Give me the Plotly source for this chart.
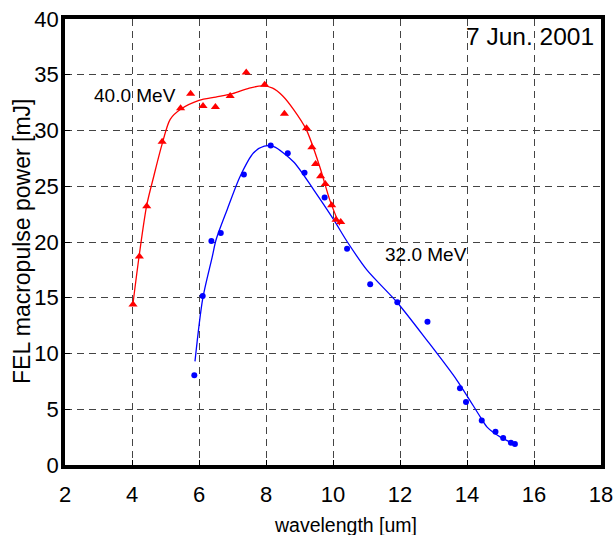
import plotly.graph_objects as go

# ---- measured data (40.0 MeV, red triangles) ----
red_x = [4.03, 4.22, 4.44, 4.90, 5.45, 5.75, 6.12, 6.49, 6.93, 7.41, 7.96, 8.55,
         9.21, 9.37, 9.48, 9.63, 9.77, 9.96, 10.09, 10.23]
red_y = [14.4, 18.7, 23.2, 29.0, 32.0, 33.3, 32.2, 32.1, 33.1, 35.2, 34.1, 31.5,
         30.2, 28.5, 27.0, 25.9, 25.2, 23.3, 22.0, 21.8]

# fitted curve (40.0 MeV)
red_fit_x = [4.03, 4.22, 4.44, 4.65, 4.90, 5.14, 5.45, 6.0, 6.5, 7.0, 7.5, 7.9,
             8.2, 8.5, 8.82, 9.2, 9.6, 9.9, 10.2]
red_fit_y = [14.5, 18.9, 23.3, 25.9, 28.8, 31.0, 31.9, 32.7, 33.0, 33.3, 33.8, 34.0,
             33.8, 33.1, 31.9, 30.1, 26.8, 23.8, 21.5]

# ---- measured data (32.0 MeV, blue dots) ----
blue_x = [5.86, 6.11, 6.37, 6.65, 7.34, 8.14, 8.65, 9.15, 9.75, 10.42, 11.11, 11.92,
          12.82, 13.79, 13.97, 14.44, 14.85, 15.08, 15.31, 15.43]
blue_y = [8.05, 15.15, 20.1, 20.8, 26.05, 28.65, 27.97, 26.2, 24.0, 19.4, 16.2, 14.6,
          12.84, 6.88, 5.65, 3.98, 2.99, 2.42, 2.0, 1.88]

# fitted curve (32.0 MeV)
blue_fit_x = [5.88, 6.11, 6.39, 6.51, 6.84, 7.23, 7.63, 7.95, 8.23, 8.82, 9.42, 10.02,
              10.43, 11.01, 11.91, 12.8, 13.7, 14.4, 14.6, 15.0, 15.44]
blue_fit_y = [9.3, 14.9, 18.6, 20.2, 22.9, 25.9, 28.0, 28.6, 28.55, 27.2, 24.7, 22.0,
              20.0, 17.5, 14.6, 11.2, 7.6, 4.3, 3.4, 2.5, 1.85]

x_ticks = [2, 4, 6, 8, 10, 12, 14, 16, 18]
y_ticks = [0, 5, 10, 15, 20, 25, 30, 35, 40]

FONT = "Arial, Liberation Sans, sans-serif"

fig = go.Figure()
fig.add_trace(go.Scatter(x=red_fit_x, y=red_fit_y, mode="lines",
                         line=dict(color="#ff0000", width=1.3, shape="spline", smoothing=0.8),
                         showlegend=False, hoverinfo="skip"))
fig.add_trace(go.Scatter(x=blue_fit_x, y=blue_fit_y, mode="lines",
                         line=dict(color="#0000ff", width=1.3, shape="spline", smoothing=0.8),
                         showlegend=False, hoverinfo="skip"))
fig.add_trace(go.Scatter(x=red_x, y=red_y, mode="markers", name="40.0 MeV",
                         marker=dict(symbol="triangle-up", size=8, color="#ff0000"),
                         showlegend=False))
fig.add_trace(go.Scatter(x=blue_x, y=blue_y, mode="markers", name="32.0 MeV",
                         marker=dict(symbol="circle", size=6, color="#0000ff"),
                         showlegend=False))

fig.add_annotation(x=2.81, y=33.1, xref="x", yref="y", text="40.0 MeV", showarrow=False,
                   xanchor="left", yanchor="middle", font=dict(family=FONT, size=19, color="black"))
fig.add_annotation(x=11.48, y=18.9, xref="x", yref="y", text="32.0 MeV", showarrow=False,
                   xanchor="left", yanchor="middle", font=dict(family=FONT, size=19, color="black"))
fig.add_annotation(x=17.85, y=38.4, xref="x", yref="y", text="7 Jun. 2001", showarrow=False,
                   xanchor="right", yanchor="middle", font=dict(family=FONT, size=24.5, color="black"))

# axis titles
fig.add_annotation(x=0.5, y=0, xref="paper", yref="paper", text="wavelength [um]",
                   showarrow=False, xanchor="center", yanchor="middle", xshift=12, yshift=-60,
                   font=dict(family=FONT, size=19.5, color="black"))
fig.add_annotation(x=0, y=0.5, xref="paper", yref="paper", text="FEL macropulse power [mJ]",
                   showarrow=False, xanchor="center", yanchor="middle", xshift=-43, textangle=-90,
                   font=dict(family=FONT, size=23, color="black"))

axis_common = dict(showline=True, linecolor="black", linewidth=3.5, mirror=True,
                   showgrid=True, gridcolor="#444444", gridwidth=1, griddash="7px,5px",
                   zeroline=False, ticks="inside", ticklen=5, tickcolor="black",
                   ticklabeloverflow="allow",
                   tickfont=dict(family=FONT, size=22, color="black"))

fig.update_xaxes(range=[2, 18], tickvals=x_ticks, ticktext=[str(v) for v in x_ticks],
                 ticklabelstandoff=7, **axis_common)
fig.update_yaxes(range=[0, 40], tickvals=y_ticks, ticktext=[str(v) for v in y_ticks],
                 ticklabelstandoff=-2, **axis_common)

fig.update_layout(width=613, height=535, margin=dict(l=65, r=12, t=19, b=70, autoexpand=False),
                  plot_bgcolor="white", paper_bgcolor="white",
                  font=dict(family=FONT, color="black"))

fig.write_html("out.html", config={"displayModeBar": False},
               post_script="document.body.style.margin='0';")
